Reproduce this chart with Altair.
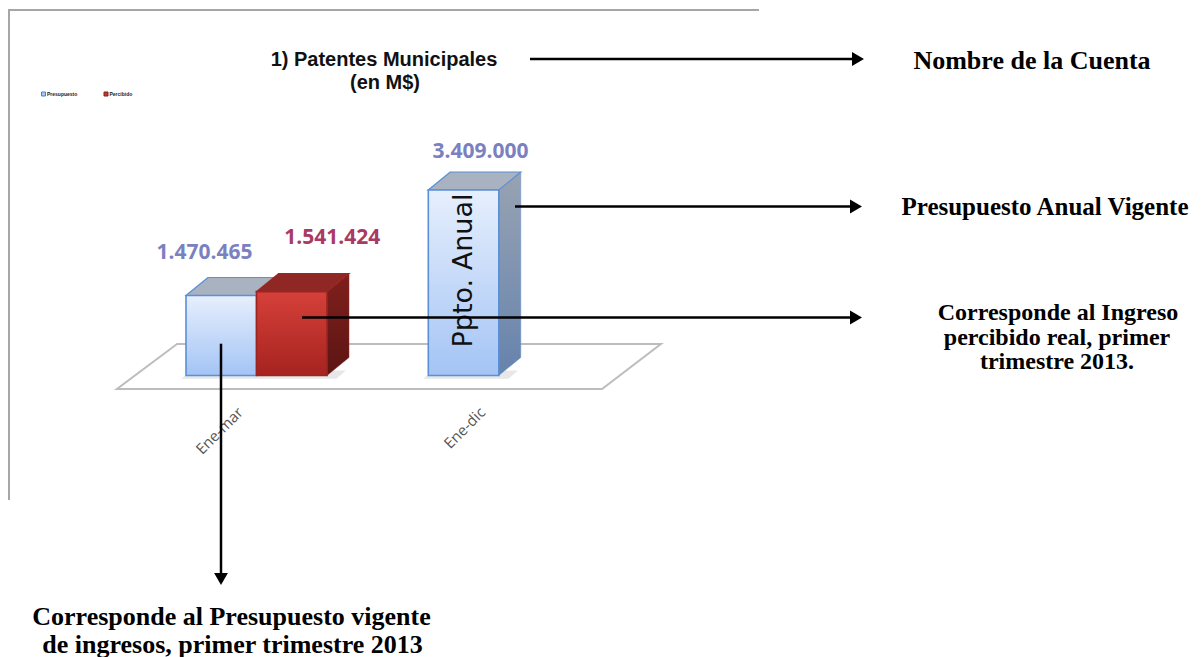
import altair as alt
import pandas as pd

# ---------------- data ----------------
categories = ["Ene-mar", "Ene-dic"]
series_names = ["Presupuesto", "Percibido"]
presupuesto = [1470465, 3409000]
percibido = [1541424, None]
label_pres = ["1.470.465", "3.409.000"]
label_perc = ["1.541.424", None]
title_lines = ["1) Patentes Municipales", "(en M$)"]

# ---------------- layout constants ----------------
W, H = 1188, 649
PX_FULL = 185.5           # px height of the 3.409.000 bar
ZERO_Y = 367.5            # chart-px of value 0
k = PX_FULL / 3409000.0
y_d0 = -(H - ZERO_Y) / k
y_d1 = y_d0 + H / k
GROUP_PX = 242.3
X0_PX = 178.0
x_d0 = -X0_PX / GROUP_PX
x_d1 = (W - X0_PX) / GROUP_PX
BW = 70.5 / GROUP_PX
DX = 22.0 / GROUP_PX
DY = 18.0 / k

xs = alt.Scale(domain=[x_d0, x_d1], nice=False, zero=False)
ys = alt.Scale(domain=[y_d0, y_d1], nice=False, zero=False)

def grad(c_top, c_bot):
    return alt.LinearGradient(gradient="linear", x1=0, x2=0, y1=0, y2=1,
                              stops=[alt.GradientStop(color=c_top, offset=0),
                                     alt.GradientStop(color=c_bot, offset=1)])

styles = {
    "Presupuesto": dict(front=grad("#e6effd", "#a4c4f5"), stroke="#5b8fd6",
                        side=grad("#98a3b3", "#6683ad"), top="#a9b2c0"),
    "Percibido": dict(front=grad("#d6403a", "#a6231f"), stroke="#9c2521",
                      side=grad("#7f201d", "#5c1513"), top="#8f2825"),
}

layers = []

# floor (decorative base of the 3D plot)
floor = pd.DataFrame([
    {"y": -248100, "x": -0.285, "x2": 1.717},
    {"y": 578900, "x": -0.037, "x2": 1.960},
])
layers.append(alt.Chart(floor).mark_area(orient="horizontal", fill="white",
                                         stroke="#bdbdbd", strokeWidth=2).encode(
    y=alt.Y("y:Q", scale=ys, axis=None),
    x=alt.X("x:Q", scale=xs, axis=None), x2="x2:Q"))
# soft shadow under bars
shadow = pd.DataFrame([
    {"y": -60000, "x": -0.02, "x2": 0.62, "g": 0},
    {"y": 90000, "x": 0.02, "x2": 0.66, "g": 0},
    {"y": -60000, "x": 0.98, "x2": 1.33, "g": 1},
    {"y": 90000, "x": 1.02, "x2": 1.37, "g": 1},
])
layers.append(alt.Chart(shadow).mark_area(orient="horizontal", fill="#e4e4e4", opacity=0.9).encode(
    y=alt.Y("y:Q", scale=ys, axis=None),
    x=alt.X("x:Q", scale=xs, axis=None), x2="x2:Q", detail="g:N"))

bars = []
lab_rows = []
lab_off = {("Ene-mar", "Presupuesto"): (-16.7, -42.5),
           ("Ene-mar", "Percibido"): (40.6, -53.6),
           ("Ene-dic", "Presupuesto"): (17.0, -38.0)}
for i, cat in enumerate(categories):
    for s, ser in enumerate(series_names):
        v = (presupuesto if s == 0 else percibido)[i]
        if v is None:
            continue
        lab = (label_pres if s == 0 else label_perc)[i]
        x0 = i + s * BW
        x1 = x0 + BW
        bars.append((cat, ser, v, x0, x1, lab))

for cat, ser, v, x0, x1, lab in bars:
    st = styles[ser]
    side = pd.DataFrame([{"x": x1, "y": v, "y2": 0}, {"x": x1 + DX, "y": v + DY, "y2": DY}])
    layers.append(alt.Chart(side).mark_area(orient="vertical", color=st["side"],
                                            stroke=st["stroke"], strokeWidth=0.8, strokeOpacity=0.6).encode(
        x=alt.X("x:Q", scale=xs, axis=None), y=alt.Y("y:Q", scale=ys, axis=None), y2="y2:Q"))
    top = pd.DataFrame([{"y": v, "x": x0, "x2": x1}, {"y": v + DY, "x": x0 + DX, "x2": x1 + DX}])
    layers.append(alt.Chart(top).mark_area(orient="horizontal", color=st["top"],
                                           stroke=st["stroke"], strokeWidth=1.2).encode(
        y=alt.Y("y:Q", scale=ys, axis=None), x=alt.X("x:Q", scale=xs, axis=None), x2="x2:Q"))
    front = pd.DataFrame([{"x": x0, "x2": x1, "y": v, "y2": 0}])
    layers.append(alt.Chart(front).mark_rect(color=st["front"], stroke=st["stroke"], strokeWidth=1.6).encode(
        x=alt.X("x:Q", scale=xs, axis=None), x2="x2:Q",
        y=alt.Y("y:Q", scale=ys, axis=None), y2="y2:Q"))
    odx, ody = lab_off[(cat, ser)]
    lab_rows.append({"x": (x0 + x1) / 2 + odx / GROUP_PX, "y": v - ody / k, "t": lab,
                     "c": "#7b80c0" if ser == "Presupuesto" else "#a93a66"})

labs = pd.DataFrame(lab_rows)
layers.append(alt.Chart(labs).mark_text(font="Open Sans", fontSize=21, fontWeight="bold",
                                        align="center", baseline="middle").encode(
    x=alt.X("x:Q", scale=xs, axis=None), y=alt.Y("y:Q", scale=ys, axis=None),
    text="t:N", color=alt.Color("c:N", scale=None)))

# "Ppto. Anual" inside the annual bar
ann = [b for b in bars if b[0] == "Ene-dic" and b[1] == "Presupuesto"][0]
layers.append(alt.Chart(pd.DataFrame([{"x": (ann[3] + ann[4]) / 2, "t": "Ppto. Anual"}])).mark_text(
    font="DejaVu Sans", fontSize=27, angle=270, color="#111111",
    align="center", baseline="middle").encode(
    x=alt.X("x:Q", scale=xs, axis=None), y=alt.value(262.5), text="t:N"))

# category labels (rotated)
cat_df = pd.DataFrame({"x": [i + BW - 16 / GROUP_PX for i in range(len(categories))], "t": categories})
layers.append(alt.Chart(cat_df).mark_text(font="Open Sans", fontSize=15, angle=315, color="#555555",
                                          align="right", baseline="middle").encode(
    x=alt.X("x:Q", scale=xs, axis=None), y=alt.value(402), text="t:N"))

one = alt.Data(values=[{"a": 1}])

def text(t, x, y, size, font="Liberation Serif", weight="bold", color="black", align="center"):
    return alt.Chart(one).mark_text(text=t, font=font, fontSize=size, fontWeight=weight, color=color,
                                    align=align, baseline="middle").encode(x=alt.value(x), y=alt.value(y))

def hrule(x1, x2, y, color="black", w=2.5):
    return alt.Chart(one).mark_rule(color=color, strokeWidth=w).encode(
        x=alt.value(x1), x2=alt.value(x2), y=alt.value(y))

def vrule(x, y1, y2, color="black", w=2.5):
    return alt.Chart(one).mark_rule(color=color, strokeWidth=w).encode(
        x=alt.value(x), y=alt.value(y1), y2=alt.value(y2))

def head(x, y, shape):
    return alt.Chart(one).mark_point(shape=shape, filled=True, color="black", size=190, opacity=1).encode(
        x=alt.value(x), y=alt.value(y))

# frame of the embedded chart
layers.append(hrule(0, 751, 2, color="#a6a6a6", w=2))
layers.append(vrule(1, 2, 492, color="#a6a6a6", w=2))

# title
layers.append(text(title_lines[0], 376, 52, 20, font="Liberation Sans", color="#111111"))
layers.append(text(title_lines[1], 377, 75, 20, font="Liberation Sans", color="#111111"))

# tiny legend
layers.append(alt.Chart(one).mark_square(size=16, color="#a9c8f5", stroke="#4f7fc8", strokeWidth=1, opacity=1).encode(
    x=alt.value(35.5), y=alt.value(86)))
layers.append(text(series_names[0], 39, 86, 5, font="Liberation Sans", color="#222222", align="left"))
layers.append(alt.Chart(one).mark_square(size=16, color="#c0392b", stroke="#8a1f1a", strokeWidth=1, opacity=1).encode(
    x=alt.value(98), y=alt.value(86)))
layers.append(text(series_names[1], 101.5, 86, 5, font="Liberation Sans", color="#222222", align="left"))

# arrows
layers.append(hrule(522, 846, 51))
layers.append(head(850, 51, "triangle-right"))
layers.append(hrule(507, 844, 198.5))
layers.append(head(848, 198.5, "triangle-right"))
layers.append(hrule(294, 844, 309.5))
layers.append(head(848, 309.5, "triangle-right"))
layers.append(vrule(213, 335.7, 566))
layers.append(head(213, 571, "triangle-down"))

# annotation texts
layers.append(text("Nombre de la Cuenta", 1024, 52.7, 26))
layers.append(text("Presupuesto Anual Vigente", 1037, 199, 25))
layers.append(text("Corresponde al Ingreso", 1050, 305, 24))
layers.append(text("percibido real,  primer", 1049, 329.5, 24))
layers.append(text("trimestre 2013.", 1049, 354, 24))
layers.append(text("Corresponde al Presupuesto vigente", 223.5, 608.7, 26))
layers.append(text("de ingresos, primer trimestre 2013", 224.5, 636.5, 26))

chart = alt.layer(*layers).properties(
    width=W, height=H, padding=0, autosize=alt.AutoSizeParams(type="none"), background="white"
).configure_view(stroke=None)

chart.save("out.html", embed_options={"renderer": "svg", "actions": False})
